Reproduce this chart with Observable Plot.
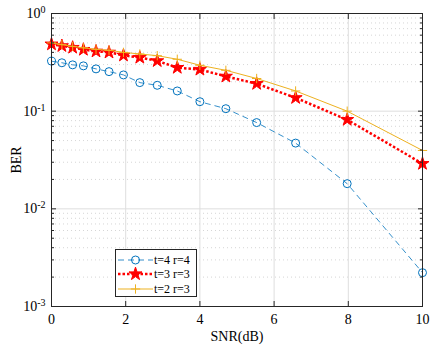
<!DOCTYPE html>
<html><head><meta charset="utf-8">
<script src="https://cdn.jsdelivr.net/npm/d3@7"></script>
<script src="https://cdn.jsdelivr.net/npm/@observablehq/plot@0.6"></script>
<style>
body{margin:0;background:#fff}
#wrap{position:relative;width:432px;height:349px;font-family:'Liberation Serif','Times New Roman',serif}
#legend{position:absolute;left:115px;top:249px;width:82px;height:48px;border:1px solid #262626;background:#fff;box-sizing:border-box}
#legend .row{position:absolute;left:0;height:14px;display:flex;align-items:center;font-size:12px;color:#000;white-space:nowrap}
</style>
</head><body><div id="wrap"><div id="legend"></div></div>
<script>
const snr = [0, 0.28, 0.57, 0.86, 1.2, 1.55, 1.94, 2.38, 2.85, 3.39, 4.0, 4.7, 5.53, 6.58, 7.97, 10];
const berT4R4 = [0.325, 0.313, 0.298, 0.291, 0.271, 0.254, 0.235, 0.196, 0.184, 0.161, 0.125, 0.106, 0.0764, 0.0471, 0.0181, 0.00222];
const berT3R3 = [0.485, 0.466, 0.448, 0.427, 0.41, 0.40, 0.373, 0.354, 0.327, 0.279, 0.267, 0.227, 0.191, 0.137, 0.0818, 0.029];
const berT2R3 = [0.50, 0.48, 0.46, 0.445, 0.43, 0.42, 0.40, 0.385, 0.37, 0.34, 0.295, 0.262, 0.216, 0.161, 0.100, 0.0396];
const seriesNames = ["t=4 r=4", "t=3 r=3", "t=2 r=3"];
const xTicks = [0, 2, 4, 6, 8, 10];
const yTicks = [1e-3, 1e-2, 1e-1, 1];
const xLabel = "SNR(dB)";
const yLabel = "BER";

const colors = ["#0072BD", "#FF0000", "#EDB120"];
const axisColor = "#262626";
const rows = [];
[berT4R4, berT3R3, berT2R3].forEach((arr, i) => arr.forEach((v, j) => rows.push({series: seriesNames[i], snr: snr[j], ber: v})));
const minorY = [];
for (let k = -3; k < 0; k++) for (let m = 2; m <= 9; m++) minorY.push(m * Math.pow(10, k));
const bySeries = i => rows.filter(d => d.series === seriesNames[i]);

const styles = [
  {line: {strokeWidth: 0.8, strokeDasharray: "6,4"}, dot: {symbol: "circle", r: 4, stroke: colors[0], fill: "none", strokeWidth: 1}},
  {line: {strokeWidth: 2.5, strokeDasharray: "2.5,2"}, dot: {symbol: "star", r: 4.1, stroke: colors[1], fill: colors[1], strokeWidth: 1}},
  {line: {strokeWidth: 1}, dot: {symbol: "plus", r: 3.1, stroke: colors[2], fill: "none", strokeWidth: 1}}
];

const marks = [
  Plot.gridY(minorY, {stroke: "#c4c4c4", strokeOpacity: 1, strokeDasharray: "1,3", strokeWidth: 0.7}),
  Plot.gridY(yTicks, {stroke: "#dedede", strokeOpacity: 1}),
  Plot.gridX(xTicks, {stroke: "#dedede", strokeOpacity: 1})
];
styles.forEach((s, i) => {
  marks.push(Plot.line(bySeries(i), {x: "snr", y: "ber", stroke: colors[i], strokeLinecap: "butt", strokeLinejoin: "miter", ...s.line}));
  marks.push(Plot.dot(bySeries(i), {x: "snr", y: "ber", ...s.dot}));
});
marks.push(
  Plot.frame({stroke: axisColor}),
  Plot.axisX(xTicks, {anchor: "bottom", tickSize: -5, tickPadding: 13, stroke: axisColor, fill: "#000", fontSize: 14, label: xLabel, labelAnchor: "center", labelArrow: "none", labelOffset: 34}),
  Plot.axisX(xTicks, {anchor: "top", tickSize: -5, tickFormat: () => "", label: null, stroke: axisColor}),
  Plot.axisY(yTicks, {anchor: "left", tickSize: -5, tickPadding: 11, stroke: axisColor, fill: "#000", fontSize: 14, tickFormat: d => "10^" + Math.round(Math.log10(d)), label: yLabel, labelAnchor: "center", labelArrow: "none", labelOffset: 40}),
  Plot.axisY(yTicks, {anchor: "right", tickSize: -5, tickFormat: () => "", label: null, stroke: axisColor}),
  Plot.axisY(minorY, {anchor: "left", tickSize: -3, tickFormat: () => "", label: null, stroke: axisColor}),
  Plot.axisY(minorY, {anchor: "right", tickSize: -3, tickFormat: () => "", label: null, stroke: axisColor})
);

const chart = Plot.plot({
  width: 432, height: 349,
  marginLeft: 51, marginRight: 10, marginTop: 13, marginBottom: 43,
  style: {fontFamily: "'Liberation Serif','Times New Roman',serif", fontSize: "14px", background: "white", color: "#000"},
  x: {domain: [0, 10]},
  y: {type: "log", domain: [1e-3, 1]},
  marks
});
document.getElementById("wrap").prepend(chart);

// superscript exponents
d3.select(chart).selectAll("text").each(function() {
  const t = this.textContent;
  if (/^10\^-?\d+$/.test(t)) {
    const [b, e] = t.split("^");
    const el = d3.select(this);
    el.text(b);
    el.append("tspan").attr("dy", "-0.5em").attr("font-size", "10px").text(e);
  }
});

// legend
const legend = d3.select("#legend");
const rowTops = [3, 17, 32];
const symMap = {circle: d3.symbolCircle, star: d3.symbolStar, plus: d3.symbolPlus};
styles.forEach((s, i) => {
  const row = legend.append("div").attr("class", "row").style("top", rowTops[i] + "px");
  const svg = row.append("svg").attr("width", 38).attr("height", 14).style("display", "block");
  svg.append("line").attr("x1", 2).attr("x2", 37).attr("y1", 7).attr("y2", 7)
    .attr("stroke", colors[i]).attr("stroke-width", s.line.strokeWidth)
    .attr("stroke-dasharray", s.line.strokeDasharray || null);
  svg.append("path").attr("transform", "translate(19.5,7)")
    .attr("d", d3.symbol(symMap[s.dot.symbol], Math.PI * s.dot.r * s.dot.r)())
    .attr("stroke", s.dot.stroke).attr("fill", s.dot.fill).attr("stroke-width", s.dot.strokeWidth);
  row.append("span").text(seriesNames[i]);
});
</script>
</body></html>
